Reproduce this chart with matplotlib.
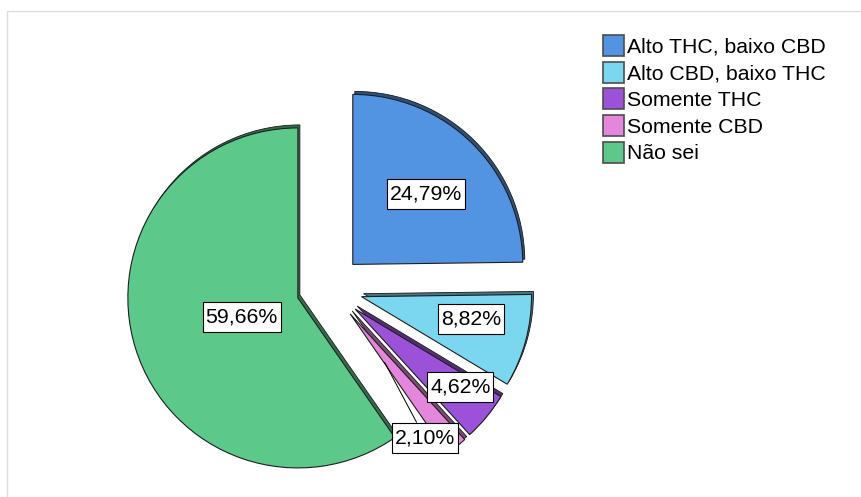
import matplotlib
matplotlib.use("Agg")
import numpy as np
import matplotlib.pyplot as plt
import matplotlib.colors as mcolors
from matplotlib.patches import Rectangle
from matplotlib.path import Path
from matplotlib.transforms import ScaledTranslation

# Data
categories = ["Alto THC, baixo CBD", "Alto CBD, baixo THC", "Somente THC",
              "Somente CBD", "Não sei"]
percentages = [24.79, 8.82, 4.62, 2.10, 59.66]
colors = ["#5294E2", "#7BD7EF", "#9C52D8", "#E486DC", "#5CC98B"]
label_texts = [f"{v:.2f}".replace(".", ",") + "%" for v in percentages]

plt.rcParams["font.family"] = ["Liberation Sans", "DejaVu Sans"]

W, H, DPI = 861, 497, 100
fig = plt.figure(figsize=(W / DPI, H / DPI), dpi=DPI)

# light panel border (top and left edges visible)
fig.patches.append(Rectangle((7 / W, -0.2), 1.5, 1.2 - 11 / H,
                             transform=fig.transFigure, fill=False,
                             ec="#DCDCE6", lw=1.0))

ax = fig.add_axes([0, 0, 1, 1])
explode = [0.195] * len(percentages)

# extruded depth layer: darker copy shifted slightly right and up
shadow_colors = [tuple(np.array(mcolors.to_rgb(c)) * 0.55) for c in colors]
sh_wedges, _ = ax.pie(percentages, colors=shadow_colors, explode=explode,
                      startangle=90, counterclock=False,
                      wedgeprops=dict(linewidth=0.6, edgecolor="#1a1a1a"))
shift = ScaledTranslation(2 / DPI, 3 / DPI, fig.dpi_scale_trans)
for w in sh_wedges:
    w.set_transform(ax.transData + shift)

wedges, _ = ax.pie(percentages, colors=colors, explode=explode,
                   startangle=90, counterclock=False,
                   wedgeprops=dict(linewidth=0.8, edgecolor="#1e1e1e"))


def label_box(x0, y0, width, height, mutation_size):
    """Rectangular box with separate horizontal and vertical padding."""
    px, py = 0.14 * mutation_size, 0.26 * mutation_size
    x1, y1 = x0 + width + px, y0 + height + py
    x0, y0 = x0 - px, y0 - py
    return Path([(x0, y0), (x1, y0), (x1, y1), (x0, y1), (x0, y0)],
                closed=True)


# label placement: (radius fraction, angle tweak in degrees) from each slice bisector
label_place = [(0.60, -1.5), (0.66, 3.5), (0.77, 2.7), (0.85, -7.5), (0.35, 1.6)]
box = dict(boxstyle=label_box, fc="white", ec="black", lw=0.8)
fs = 15.3
for w, txt, (r, dt) in zip(wedges, label_texts, label_place):
    mid = np.deg2rad((w.theta1 + w.theta2) / 2 + dt)
    cx, cy = w.center
    x, y = cx + r * np.cos(mid), cy + r * np.sin(mid)
    if txt == label_texts[3]:
        a = np.deg2rad(w.theta1 + 0.6)
        ax.annotate(txt, xy=(cx + 0.35 * np.cos(a), cy + 0.35 * np.sin(a)),
                    xytext=(x, y), ha="center", va="center", fontsize=fs,
                    bbox=box, zorder=5,
                    arrowprops=dict(arrowstyle="-", lw=0.7, color="black",
                                    shrinkA=0, shrinkB=0))
    else:
        ax.text(x, y, txt, ha="center", va="center", fontsize=fs, bbox=box,
                zorder=5)

# map data units so that the pie centre and radius sit where intended
scale = 170.0
px_c, py_c = 329.5, 288.0
ax.set_aspect("auto")
ax.set_xlim(-px_c / scale, (W - px_c) / scale)
ax.set_ylim(-(H - py_c) / scale, py_c / scale)
ax.axis("off")

handles = [Rectangle((0, 0), 1, 1, fc=c, ec="#4d4d4d", lw=1.2) for c in colors]
fig.legend(handles, categories, loc="upper left",
           bbox_to_anchor=(603 / W, 1 - 35 / H), frameon=False, fontsize=fs,
           handlelength=0.99, handleheight=1.14, handletextpad=0.15,
           labelspacing=0.235, borderpad=0, borderaxespad=0)

fig.savefig("out.png", dpi=DPI)
